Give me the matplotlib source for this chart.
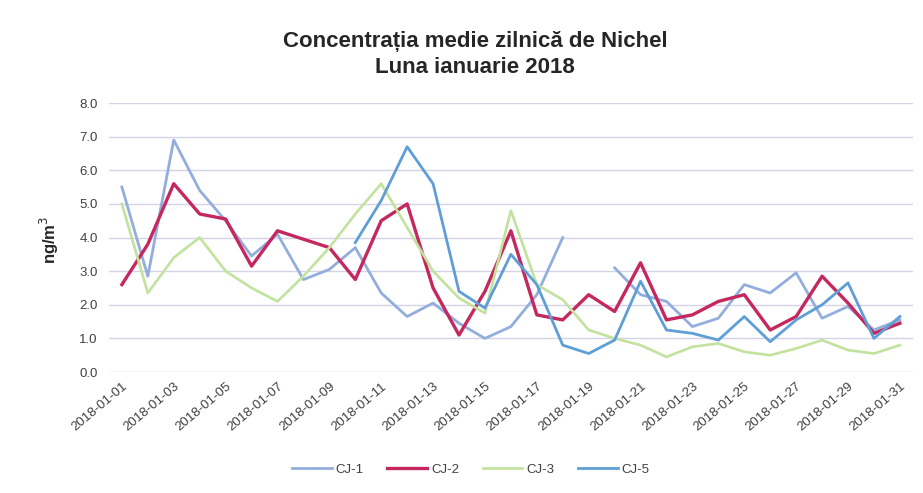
import numpy as np
import pandas as pd
import matplotlib
matplotlib.use("Agg")
from matplotlib import pyplot as plt
import matplotlib.dates as mdates

plt.rcParams['font.family'] = ['Liberation Sans', 'DejaVu Sans']

# daily dates, January 2018
dates = pd.date_range("2018-01-01", "2018-01-31", freq="D")

nan = np.nan
cj1 = [5.5, 2.85, 6.9, 5.4, 4.5, 3.45, 4.1, 2.75, 3.05, 3.7,
       2.35, 1.65, 2.05, 1.45, 1.0, 1.35, 2.3, 4.0, nan, 3.1,
       2.3, 2.1, 1.35, 1.6, 2.6, 2.35, 2.95, 1.6, 1.95, 1.25, 1.55]
cj2 = [2.6, 3.8, 5.6, 4.7, 4.55, 3.15, 4.2, 3.95, 3.7, 2.75,
       4.5, 5.0, 2.5, 1.1, 2.4, 4.2, 1.7, 1.55, 2.3, 1.8,
       3.25, 1.55, 1.7, 2.1, 2.3, 1.25, 1.65, 2.85, 2.05, 1.15, 1.45]
cj3 = [5.0, 2.35, 3.4, 4.0, 3.0, 2.5, 2.1, 2.85, 3.7, 4.7,
       5.6, 4.3, 3.0, 2.2, 1.75, 4.8, 2.6, 2.15, 1.25, 1.0,
       0.8, 0.45, 0.75, 0.85, 0.6, 0.5, 0.7, 0.95, 0.65, 0.55, 0.8]
cj5 = [nan, nan, nan, nan, nan, nan, nan, nan, nan, 3.85,
       5.1, 6.7, 5.6, 2.4, 1.9, 3.5, 2.6, 0.8, 0.55, 0.95,
       2.7, 1.25, 1.15, 0.95, 1.65, 0.9, 1.55, 2.0, 2.65, 1.0, 1.65]

series = [("CJ-1", cj1, "#93aedc", 2.0),
          ("CJ-2", cj2, "#c4285e", 2.4),
          ("CJ-3", cj3, "#c2e29e", 1.9),
          ("CJ-5", cj5, "#5f9ed6", 2.0)]

fig = plt.figure(figsize=(9.23, 4.93), dpi=100)
ax = fig.add_axes([0.118, 0.2454, 0.871, 0.5456])

for name, vals, color, lw in series:
    ax.plot(dates, vals, color=color, lw=lw, label=name)

ax.set_ylim(0, 8)
ax.set_yticks(np.arange(0, 8.1, 1.0))
ax.yaxis.set_major_formatter(plt.FuncFormatter(lambda v, _: f"{v:.1f}"))
ax.set_xlim(pd.Timestamp("2017-12-31 12:00"), pd.Timestamp("2018-01-31 12:00"))
ax.xaxis.set_major_locator(mdates.DayLocator(bymonthday=range(1, 32, 2)))
ax.xaxis.set_major_formatter(mdates.DateFormatter("%Y-%m-%d"))
plt.setp(ax.get_xticklabels(), rotation=40, ha="right", rotation_mode="anchor")

ax.grid(axis='y', color='#d4d4e6', lw=1.0)
ax.set_axisbelow(True)
for s in ax.spines.values():
    s.set_visible(False)
ax.tick_params(length=0, labelsize=9.5, colors='#404040')
ax.tick_params(axis='y', pad=8)
ax.tick_params(axis='x', pad=6)

# title
fig.text(0.515, 0.915, "Concentrația medie zilnică de Nichel", ha='center', va='center',
         fontsize=16, fontweight='bold', color='#262626')
fig.text(0.515, 0.864, "Luna ianuarie 2018", ha='center', va='center',
         fontsize=16, fontweight='bold', color='#262626')
fig.text(0.054, 0.513, "ng/m$^3$", rotation=90, ha='center', va='center',
         fontsize=12, fontweight='bold', color='#262626')

fig.legend(loc='center', bbox_to_anchor=(0.51, 0.047), ncol=4, frameon=False,
           fontsize=9.5, handlelength=3.0, handletextpad=0.3, columnspacing=1.8,
           labelcolor='#404040')

fig.savefig("out.png", dpi=100)
plt.close(fig)
